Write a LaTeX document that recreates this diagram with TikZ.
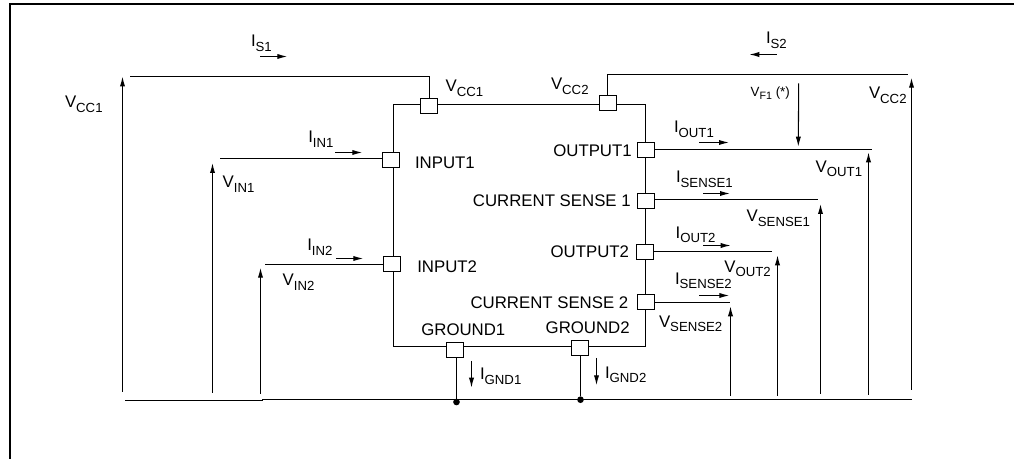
\documentclass[tikz,border=0pt]{standalone}
\usepackage{fontspec}
\setmainfont{Liberation Sans}
\usetikzlibrary{arrows.meta}
\newcommand{\sbs}[1]{\raisebox{-0.27em}{\fontsize{9.9}{10}\selectfont #1}}
\tikzset{
  x=0.75pt,y=-0.75pt,
  wire/.style={line width=0.8pt,black},
  frameline/.style={line width=1.7pt,black},
  tipped/.style={wire,-{Latex[length=7.5pt,width=3.9pt]}},
  pin/.style={draw=black,line width=0.8pt,fill=white,minimum width=12.75pt,minimum height=11.25pt,inner sep=0pt,outer sep=0pt},
  lab/.style={inner sep=0pt,outer sep=0pt,anchor=base west,font=\fontsize{12.6}{14}\selectfont,text=black},
  labr/.style={lab,anchor=base east},
  small/.style={lab,font=\fontsize{10}{12}\selectfont},
  dot/.style={circle,fill=black,inner sep=0pt,minimum size=5pt,outer sep=0pt}
}
\begin{document}
\begin{tikzpicture}
\useasboundingbox (0,0) rectangle (1014,459);
% frame
\coordinate (fa) at (10.3,459);
\coordinate (fb) at (10.3,4);
\coordinate (fc) at (1014,4);
\draw[frameline] (fa) -- (fb) -- (fc);
% chip outline
\coordinate (ctl) at (393.5,104.5);
\coordinate (ctr) at (645.5,104.5);
\coordinate (cbr) at (645.5,346.5);
\coordinate (cbl) at (393.5,346.5);
\draw[wire] (ctl) -- (ctr) -- (cbr) -- (cbl) -- cycle;
% pins
\node[pin] (pvcc1) at (429,106) {};
\node[pin] (pvcc2) at (608,103) {};
\node[pin] (pin1) at (391,160) {};
\node[pin] (pin2) at (392,264) {};
\node[pin] (pgnd1) at (455,350) {};
\node[pin] (pgnd2) at (580,348) {};
\node[pin] (pout1) at (646,150) {};
\node[pin] (pcs1) at (646,201) {};
\node[pin] (pout2) at (645,252) {};
\node[pin] (pcs2) at (646,302) {};
% supply wires
\coordinate (v1a) at (130,76.5);
\coordinate (v1b) at (429.5,76.5);
\draw[wire] (v1a) -- (v1b) -- (v1b |- pvcc1.north);
\coordinate (v2a) at (907.5,74.5);
\coordinate (v2b) at (607.5,74.5);
\draw[wire] (v2a) -- (v2b) -- (v2b |- pvcc2.north);
% signal wires
\coordinate (in1e) at (220,158.5);
\coordinate (in2e) at (265,264.5);
\coordinate (o1e) at (871.7,149.5);
\coordinate (s1e) at (817.7,199.5);
\coordinate (o2e) at (772,251.5);
\coordinate (s2e) at (730,302.5);
\draw[wire] (in1e) -- (pin1.west |- in1e);
\draw[wire] (in2e) -- (pin2.west |- in2e);
\draw[wire] (pout1.east |- o1e) -- (o1e);
\draw[wire] (pcs1.east |- s1e) -- (s1e);
\draw[wire] (pout2.east |- o2e) -- (o2e);
\draw[wire] (pcs2.east |- s2e) -- (s2e);
% ground rail
\coordinate (g0) at (125,400.5);
\coordinate (g1) at (262.5,400.5);
\coordinate (g2) at (262.5,399.5);
\coordinate (g3) at (912,399.5);
\draw[wire] (g0) -- (g1) -- (g2) -- (g3);
\node[dot] (d1) at (456.5,402) {};
\node[dot] (d2) at (580.5,399.7) {};
\draw[wire] (d1 |- pgnd1.south) -- (d1);
\draw[wire] (d2 |- pgnd2.south) -- (d2);
% voltage arrows
\coordinate (a1s) at (122.5,391.7); \coordinate (a1e) at (122.5,76.5);
\coordinate (a2s) at (212.5,393);   \coordinate (a2e) at (212.5,163);
\coordinate (a3s) at (260.5,394);   \coordinate (a3e) at (260.5,267.7);
\coordinate (a4s) at (911.5,390);   \coordinate (a4e) at (911.5,77.7);
\coordinate (a5s) at (868.5,394.7); \coordinate (a5e) at (868.5,152.3);
\coordinate (a6s) at (820.5,393.7); \coordinate (a6e) at (820.5,204);
\coordinate (a7s) at (777.5,395.7); \coordinate (a7e) at (777.5,255.3);
\coordinate (a8s) at (730.5,395.7); \coordinate (a8e) at (730.5,306.3);
\coordinate (a9s) at (798.7,83.3);  \coordinate (a9e) at (798.3,146.7);
\foreach \n in {1,...,9} \draw[tipped] (a\n s) -- (a\n e);
% current arrows
\coordinate (c1s) at (260,56.5);    \coordinate (c1e) at (287.3,56.5);
\coordinate (c2s) at (776.7,54.5);  \coordinate (c2e) at (749.3,54.5);
\coordinate (c3s) at (335,152.5);   \coordinate (c3e) at (362.3,152.5);
\coordinate (c4s) at (336,258.5);   \coordinate (c4e) at (363.3,258.5);
\coordinate (c5s) at (699,142.5);   \coordinate (c5e) at (729,142.5);
\coordinate (c6s) at (703.3,193.5); \coordinate (c6e) at (730,193.5);
\coordinate (c7s) at (703.3,245.5); \coordinate (c7e) at (730.7,245.5);
\coordinate (c8s) at (699,295.5);   \coordinate (c8e) at (729.3,295.5);
\coordinate (c9s) at (471.5,361);   \coordinate (c9e) at (471.5,387.7);
\coordinate (c10s) at (596.5,358);  \coordinate (c10e) at (596.5,385.3);
\foreach \n in {1,...,10} \draw[tipped] (c\n s) -- (c\n e);
% labels
\node[lab] (l1) at (65,107.7) {V\sbs{CC1}};
\node[lab] (l2) at (251,46.5) {I\sbs{S1}};
\node[lab] (l3) at (445.7,92) {V\sbs{CC1}};
\node[lab] (l4) at (308.3,143) {I\sbs{IN1}};
\node[lab] (l5) at (415,169) {INPUT1};
\node[lab] (l6) at (222.7,187.7) {V\sbs{IN1}};
\node[lab] (l7) at (307.3,251) {I\sbs{IN2}};
\node[lab] (l8) at (417.3,272.7) {INPUT2};
\node[lab] (l9) at (282.7,285.7) {V\sbs{IN2}};
\node[lab] (l10) at (421.3,336) {GROUND1};
\node[lab] (l11) at (480,380) {I\sbs{GND1}};
\node[lab] (l12) at (551,90) {V\sbs{CC2}};
\node[lab] (l13) at (766,43.7) {I\sbs{S2}};
\node[small] (l14) at (750.7,96.7) {V\raisebox{-0.2em}{\fontsize{8}{9}\selectfont F1} (*)};
\node[lab] (l15) at (869,98.7) {V\sbs{CC2}};
\node[labr] (l16) at (631.7,156.7) {OUTPUT1};
\node[lab] (l17) at (674,132.5) {I\sbs{OUT1}};
\node[lab] (l18) at (815.7,172.3) {V\sbs{OUT1}};
\node[lab] (l19) at (676,182.8) {I\sbs{SENSE1}};
\node[labr] (l20) at (630.7,207) {CURRENT SENSE 1};
\node[lab] (l21) at (746.7,221.7) {V\sbs{SENSE1}};
\node[lab] (l22) at (675.7,238.3) {I\sbs{OUT2}};
\node[labr] (l23) at (629,258) {OUTPUT2};
\node[lab] (l24) at (724.3,272.3) {V\sbs{OUT2}};
\node[lab] (l25) at (675,284.2) {I\sbs{SENSE2}};
\node[labr] (l26) at (628.3,309) {CURRENT SENSE 2};
\node[lab] (l27) at (545.7,333.3) {GROUND2};
\node[lab] (l28) at (605,378.3) {I\sbs{GND2}};
\node[lab] (l29) at (659,327.3) {V\sbs{SENSE2}};
\end{tikzpicture}
\end{document}
